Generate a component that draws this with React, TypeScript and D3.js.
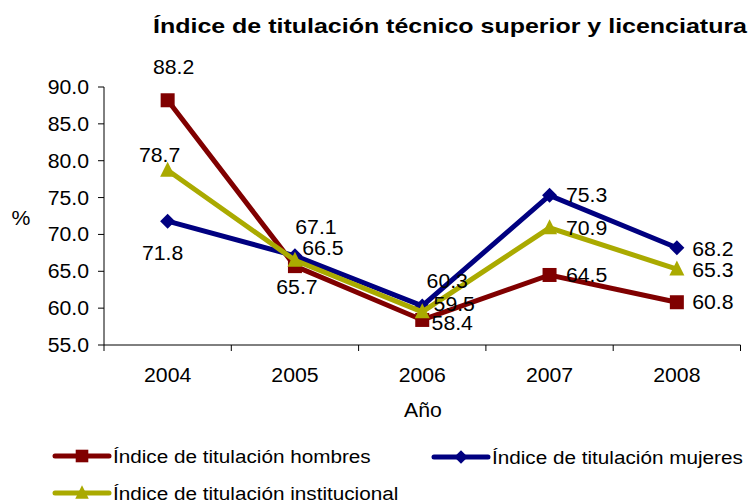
import React from 'react';
import * as d3 from 'd3';

const years = ['2004', '2005', '2006', '2007', '2008'];
const hombres = [88.2, 65.7, 58.4, 64.5, 60.8];
const mujeres = [71.8, 67.1, 60.3, 75.3, 68.2];
const institucional = [78.7, 66.5, 59.5, 70.9, 65.3];
const yTicks = [55, 60, 65, 70, 75, 80, 85, 90];

// label nudges [dx, dy] from each point (baseline)
const hombresLabelPos = [[6, -26], [2, 28], [30, 10], [37, 7], [36, 7]];
const mujeresLabelPos = [[-5, 39], [21, -22], [25, -18], [37, 7], [36, 8]];
const institucionalLabelPos = [[-8, -8], [28, -5], [32, -1], [37, 7], [36, 8]];

const FONT = 'Arial, "Liberation Sans", sans-serif';
const SX = 1.09; // text in the source is a bit wider than Arial

const margin = { top: 87, left: 104, right: 15, bottom: 159 };
const W = 756;
const H = 504;

const series = [
  { name: 'Índice de titulación hombres', values: hombres, color: '#800000', marker: 'square', labels: hombresLabelPos },
  { name: 'Índice de titulación mujeres', values: mujeres, color: '#000080', marker: 'diamond', labels: mujeresLabelPos },
  { name: 'Índice de titulación institucional', values: institucional, color: '#AAAA00', marker: 'triangle', labels: institucionalLabelPos },
];

const T = ({ x, y, anchor = 'start', size = 19.5, weight = 'normal', children }: any) => (
  <text transform={`translate(${x},${y}) scale(${SX},1)`} textAnchor={anchor} fontSize={size} fontWeight={weight}>{children}</text>
);

const Marker = ({ type, x, y, color, s = 1 }: any) => {
  if (type === 'square') {
    const h = 7 * s;
    return <rect x={x - h} y={y - h} width={2 * h} height={2 * h} fill={color} />;
  }
  if (type === 'diamond') {
    const h = 7.5 * s;
    return <path d={`M${x},${y - h}L${x + h},${y}L${x},${y + h}L${x - h},${y}Z`} fill={color} />;
  }
  const h = 7.5 * s;
  return <path d={`M${x},${y - h - 1}L${x + h},${y + h - 1}L${x - h},${y + h - 1}Z`} fill={color} />;
};

export default function App() {
  const x = d3.scaleBand().domain(years).range([margin.left, W - margin.right - 0.5]);
  const y = d3.scaleLinear().domain([55, 90]).range([H - margin.bottom, margin.top]);
  const cx = (d: string) => (x(d) as number) + x.bandwidth() / 2;
  const line = d3.line<number>().x((_, i) => cx(years[i])).y(v => y(v));
  const xTickPos = years.map(d => x(d) as number).concat([x.range()[1]]);

  return (
    <svg width={W} height={H} style={{ position: 'absolute', left: 0, top: 0, background: '#fff' }} fontFamily={FONT}>
      <text x={153} y={33} fontSize={21} fontWeight="bold" textLength={594} lengthAdjust="spacingAndGlyphs">Índice de titulación técnico superior y licenciatura</text>

      {/* y axis */}
      <line x1={margin.left} x2={margin.left} y1={y(90)} y2={y(55)} stroke="#000" strokeWidth={1} />
      {yTicks.map(t => (
        <g key={t}>
          <line x1={margin.left - 6} x2={margin.left} y1={y(t)} y2={y(t)} stroke="#000" />
          <T x={89} y={y(t) + 7} anchor="end">{t.toFixed(1)}</T>
        </g>
      ))}
      <T x={21} y={225} anchor="middle">%</T>

      {/* x axis */}
      <line x1={margin.left} x2={x.range()[1]} y1={y(55)} y2={y(55)} stroke="#000" />
      {xTickPos.map((p, i) => (
        <line key={i} x1={p} x2={p} y1={y(55)} y2={y(55) + 6} stroke="#000" />
      ))}
      {years.map(d => (
        <T key={d} x={cx(d)} y={382} anchor="middle">{d}</T>
      ))}
      <T x={423} y={417} anchor="middle">Año</T>

      {/* series */}
      {series.map(s => (
        <g key={s.name}>
          <path d={line(s.values) as string} fill="none" stroke={s.color} strokeWidth={5} strokeLinejoin="miter" />
          {s.values.map((v, i) => (
            <Marker key={i} type={s.marker} x={cx(years[i])} y={y(v)} color={s.color} />
          ))}
        </g>
      ))}
      {series.map(s => (
        <g key={s.name + 'l'}>
          {s.values.map((v, i) => (
            <T key={i} x={cx(years[i]) + s.labels[i][0]} y={y(v) + s.labels[i][1]} anchor="middle">{v.toFixed(1)}</T>
          ))}
        </g>
      ))}

      {/* legend */}
      {[
        { s: series[0], lx: 55, ly: 456 },
        { s: series[1], lx: 434, ly: 457 },
        { s: series[2], lx: 55, ly: 493 },
      ].map(({ s, lx, ly }) => (
        <g key={s.name + 'leg'}>
          <line x1={lx} x2={lx + 54} y1={ly} y2={ly} stroke={s.color} strokeWidth={5} strokeLinecap="round" />
          <Marker type={s.marker} x={lx + 27} y={ly} color={s.color} s={0.9} />
          <T x={lx + 58} y={ly + 7} size={19}>{s.name}</T>
        </g>
      ))}
    </svg>
  );
}
